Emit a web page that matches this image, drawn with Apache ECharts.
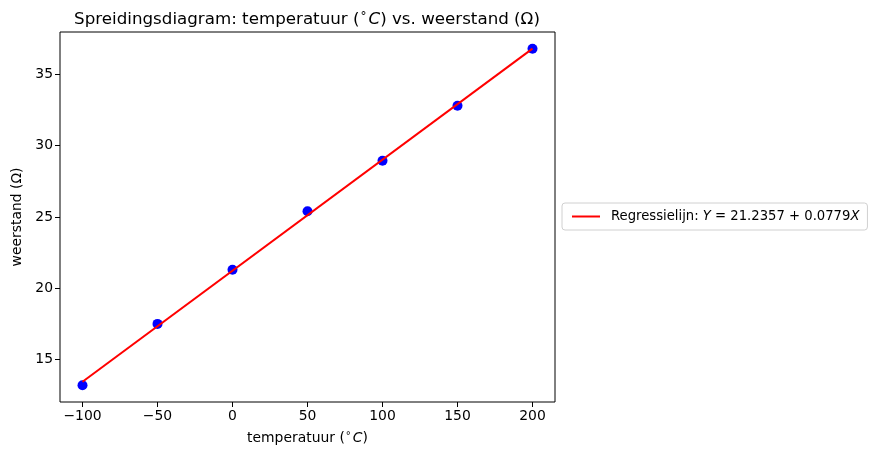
<!DOCTYPE html>
<html><head><meta charset="utf-8">
<script src="https://cdn.jsdelivr.net/npm/echarts@6/dist/echarts.min.js"></script>
<style>html,body{margin:0;padding:0;background:#fff}#c{width:876px;height:459px}</style>
</head><body><div id="c"></div>
<script>
const temperatures = [-100, -50, 0, 50, 100, 150, 200];
const resistances = [13.2, 17.5, 21.3, 25.4, 28.95, 32.8, 36.8];
const intercept = 21.2357;
const slope = 0.0779;
const xTicks = [-100, -50, 0, 50, 100, 150, 200];
const yTicks = [15, 20, 25, 30, 35];

const scatterData = temperatures.map((t, i) => [t, resistances[i]]);
const lineData = [temperatures[0], temperatures[temperatures.length - 1]].map(t => [t, intercept + slope * t]);

const F = 'DejaVu Sans';
const chart = echarts.init(document.getElementById('c'), null, {renderer: 'canvas'});
chart.setOption({
  animation: false,
  backgroundColor: '#fff',
  title: {
    text: 'Spreidingsdiagram: temperatuur ({s|°}{i|C}) vs. weerstand (Ω)',
    left: 302, top: 6, textAlign: 'center',
    textStyle: {
      fontFamily: F, fontSize: 16.7, fontWeight: 'normal', color: '#000',
      rich: {
        s: {fontFamily: F, fontSize: 12, verticalAlign: 'top', padding: [0, 2, 6, 1], color: '#000'},
        i: {fontFamily: F, fontSize: 16.7, fontStyle: 'italic', color: '#000'}
      }
    }
  },
  grid: {left: 60, right: 321, top: 32, bottom: 57, show: true, borderColor: '#000', borderWidth: 1, backgroundColor: 'transparent'},
  legend: {
    data: [{name: 'Regressielijn', icon: 'rect'}],
    left: 562, top: 203, orient: 'horizontal',
    padding: [7, 8, 7, 10],
    borderColor: '#d0d0d0', borderWidth: 1, borderRadius: 3,
    itemWidth: 28, itemHeight: 2, itemGap: 0,
    formatter: () => 'Regressielijn: {i|Y} = 21.2357 + 0.0779{i|X}',
    textStyle: {
      fontFamily: F, fontSize: 13.2, color: '#000', padding: [0, 0, 0, 6],
      rich: {i: {fontFamily: F, fontSize: 13.2, fontStyle: 'italic', color: '#000'}}
    }
  },
  xAxis: {
    type: 'value', min: -115, max: 215,
    name: 'temperatuur ({s|°}{i|C})', nameLocation: 'middle', nameGap: 29,
    nameTextStyle: {
      fontFamily: F, fontSize: 13.9, color: '#000',
      rich: {
        s: {fontFamily: F, fontSize: 10, verticalAlign: 'top', padding: [0, 2, 5, 1], color: '#000'},
        i: {fontFamily: F, fontSize: 13.9, fontStyle: 'italic', color: '#000'}
      }
    },
    axisLine: {show: false, onZero: false},
    axisTick: {show: true, inside: false, length: 5, lineStyle: {color: '#000'}, customValues: xTicks},
    axisLabel: {fontFamily: F, fontSize: 13.9, color: '#000', margin: 7, customValues: xTicks,
      formatter: v => (v < 0 ? '\u2212' + Math.abs(v) : String(v))},
    splitLine: {show: false}
  },
  yAxis: {
    type: 'value', min: 12.02, max: 37.98,
    name: 'weerstand (Ω)', nameLocation: 'middle', nameGap: 36, nameRotate: 90,
    nameTextStyle: {fontFamily: F, fontSize: 13.9, color: '#000'},
    axisLine: {show: false, onZero: false},
    axisTick: {show: true, inside: false, length: 5, lineStyle: {color: '#000'}, customValues: yTicks},
    axisLabel: {fontFamily: F, fontSize: 13.9, color: '#000', margin: 7, customValues: yTicks},
    splitLine: {show: false}
  },
  series: [
    {
      name: 'Punten', type: 'scatter', data: scatterData,
      symbol: 'circle', symbolSize: 10,
      itemStyle: {color: '#0000ff', opacity: 1}, z: 2
    },
    {
      name: 'Regressielijn', type: 'line', data: lineData,
      symbol: 'none', lineStyle: {color: '#ff0000', width: 2},
      itemStyle: {color: '#ff0000'}, z: 3
    }
  ]
});
</script></body></html>
